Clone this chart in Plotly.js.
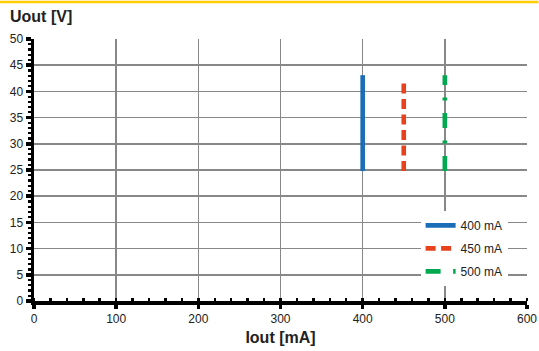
<!DOCTYPE html>
<html><head><meta charset="utf-8">
<script src="https://cdn.plot.ly/plotly-3.0.1.min.js"></script>
<style>html,body{margin:0;padding:0;background:#fff;}#chart{width:539px;height:351px;}</style>
</head><body><div id="chart"></div>
<script>
// Data
var seriesNames = ['400 mA', '450 mA', '500 mA'];
var currents = [400, 450, 500];          // Iout [mA]
var uStart = [24.8, 24.8, 24.8];          // Uout bottom [V]
var uEnd = [43.1, 41.7, 43.1];            // Uout top [V]
var colors = ['#1a6db6', '#e8411d', '#00a94f'];
var dashes = ['solid', '10px,5.5px', '15px,12.5px,3px,12.5px'];

var xTickVals = [0, 100, 200, 300, 400, 500, 600];
var yTickVals = [0, 5, 10, 15, 20, 25, 30, 35, 40, 45, 50];

var traces = seriesNames.map(function(n, i){
  return {
    type: 'scatter', mode: 'lines', name: n, legendgroup: 'g' + i,
    x: [currents[i], currents[i]], y: [uStart[i], uEnd[i]],
    line: {color: colors[i], width: 4.6, dash: dashes[i]}
  };
});

var W = 539, H = 351, ml = 34, mr = 11.5, mt = 38.5, mb = 49.5;
var pw = W - ml - mr, ph = H - mt - mb;

var layout = {
  width: W, height: H,
  margin: {l: ml, r: mr, t: mt, b: mb, pad: 0},
  paper_bgcolor: '#fff', plot_bgcolor: '#fff',
  font: {family: 'Liberation Sans, Arial, sans-serif', size: 12, color: '#222'},
  showlegend: true,
  legend: {x: (421 - ml) / pw, y: (H - mb - 211) / ph, xanchor: 'left', yanchor: 'top',
           bgcolor: '#fff', borderwidth: 0, tracegroupgap: 4, font: {size: 12, color: '#222'}},
  xaxis: {
    range: [0, 600], tickvals: xTickVals, ticktext: xTickVals.map(String),
    showgrid: true, gridcolor: '#888', gridwidth: 1.5,
    showline: true, linecolor: '#000', linewidth: 3.5,
    ticks: 'outside', ticklen: 4, tickwidth: 3.5, tickcolor: '#000',
    minor: {dtick: 20, ticks: 'inside', ticklen: 3, tickwidth: 2.5, tickcolor: '#000', showgrid: false},
    zeroline: false, fixedrange: true,
    title: {text: 'Iout [mA]', font: {size: 16, color: '#222', family: 'Liberation Sans, Arial, sans-serif', weight: 'bold'}, standoff: 8}
  },
  yaxis: {
    range: [0, 50], tickvals: yTickVals, ticktext: yTickVals.map(String),
    showgrid: true, gridcolor: '#888', gridwidth: 1.5,
    showline: true, linecolor: '#000', linewidth: 3.5,
    ticks: 'outside', ticklen: 5, tickwidth: 3.5, tickcolor: '#000',
    minor: {dtick: 1, ticks: 'outside', ticklen: 3, tickwidth: 2.2, tickcolor: '#000', showgrid: false},
    zeroline: false, fixedrange: true
  },
  annotations: [{
    xref: 'paper', yref: 'paper', x: (8 - ml) / pw, y: 1 + (mt - 16) / ph,
    xanchor: 'left', yanchor: 'middle', showarrow: false,
    text: '<b>Uout [V]</b>', font: {size: 16, color: '#222'}
  }],
  shapes: [{
    type: 'rect', xref: 'paper', yref: 'paper',
    x0: -ml / pw, x1: 1 + mr / pw, y0: 1 + (mt - 2.5) / ph, y1: 1 + mt / ph,
    fillcolor: '#ffcc00', line: {width: 0}, layer: 'above'
  }]
};

Plotly.newPlot('chart', traces, layout, {displayModeBar: false, staticPlot: true});
</script></body></html>
